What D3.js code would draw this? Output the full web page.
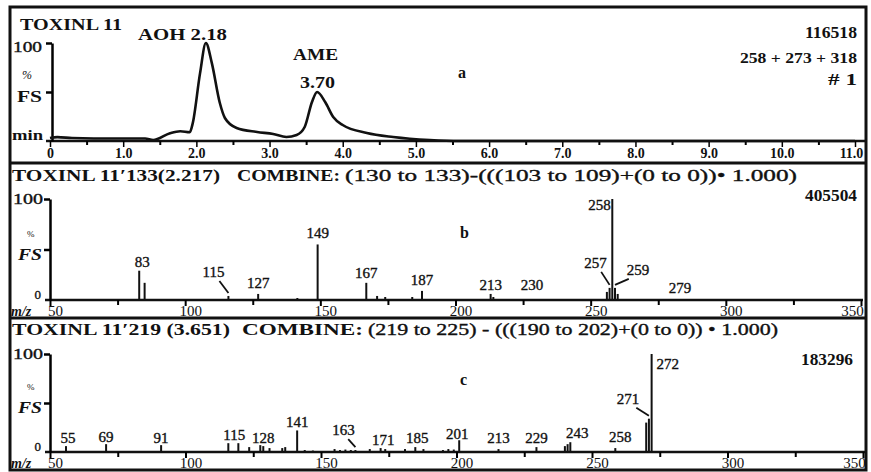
<!DOCTYPE html>
<html>
<head>
<meta charset="utf-8">
<script src="https://cdn.jsdelivr.net/npm/d3@7"></script>
<style>
  body { margin: 0; background: #fff; }
  text { font-family: "Liberation Serif", "DejaVu Serif", serif; fill: #111; }
</style>
</head>
<body>
<svg id="msChart" width="871" height="472" font-family="Liberation Serif, DejaVu Serif, serif"></svg>
<script>
// chromatogram (panel a), % of full scale vs minutes
var aTime = [0, 0.1, 0.3, 0.6, 1.0, 1.3, 1.41, 1.64, 1.78, 1.91, 1.95, 2.05, 2.13, 2.21, 2.32, 2.39, 2.55, 2.83, 3.05, 3.23, 3.37, 3.48, 3.58, 3.65, 3.76, 3.87, 4.0, 4.33, 4.69, 5.19, 5.6, 11.0];
var aSignal = [3, 4, 3, 2.5, 2.5, 2.5, 1, 8, 10, 9, 18, 69, 100, 80, 39, 23.5, 13.3, 9.2, 7.1, 4.1, 6.1, 14.3, 39.8, 50, 39.8, 24.5, 16.3, 8.2, 4.1, 1, 0, 0];
var aTickValues = [0, 1, 2, 3, 4, 5, 6, 7, 8, 9, 10, 11];
var aTickLabels = ["0", "1.0", "2.0", "3.0", "4.0", "5.0", "6.0", "7.0", "8.0", "9.0", "10.0", "11.0"];

// spectrum at scan 133 (panel b)
var bMz = [83, 85, 116, 127, 141.5, 149, 167, 171, 174, 184, 187.6, 213, 214, 229, 256, 257, 258, 259, 260, 279];
var bIntensity = [29, 17, 4, 6, 2, 55, 17, 4, 3, 3, 9, 6, 3, 1, 8, 12, 100, 12, 6, 1];
var bLabelMz = [83, 116, 127, 149, 167, 187.6, 213, 229, 257, 258, 259, 279];
var bLabelText = ["83", "115", "127", "149", "167", "187", "213", "230", "257", "258", "259", "279"];

// spectrum at scan 219 (panel c)
var cMz = [55.9, 70.7, 91, 115.8, 119.5, 123.5, 127.6, 128.7, 131, 135.7, 136.8, 141.2, 144, 147, 155, 157, 159, 161, 162.7, 168, 172, 173.7, 181, 184.8, 187.8, 195, 197, 199, 201, 215.5, 229.5, 240, 241, 242, 258.6, 270, 271, 272];
var cIntensity = [6, 8, 7, 9, 9, 5, 7, 6, 4, 4, 5, 22, 2, 1.5, 3, 2, 2.5, 2, 2, 3, 4, 3, 3, 5, 3, 2, 3, 2.5, 12, 3, 5, 6, 8, 10, 4, 30, 34, 100];
var cLabelMz = [55.9, 70.7, 91, 115.8, 128.7, 141.2, 162.7, 173.7, 184.8, 201, 215.5, 229.5, 242, 258.6, 271, 272];
var cLabelText = ["55", "69", "91", "115", "128", "141", "163", "171", "185", "201", "213", "229", "243", "258", "271", "272"];

var mzTicks = [50, 100, 150, 200, 250, 300, 350];

var svg = d3.select("svg#msChart");

// label nudges (layout only)
var bNudge = {
  "83": { dx: 3 }, "115": { dx: -15, dy: -19, lead: true }, "127": { dy: -6 },
  "149": { dy: -6 }, "167": { dy: -5 }, "187": { dy: -6 }, "230": { dx: -2, dy: -9 },
  "257": { dx: -14, dy: -20, lead: true }, "258": { dx: -1.5, dy: 11, anchor: "end" },
  "259": { dx: 23, dy: -13, lead: true }, "279": { dx: 11, dy: -6 }
};
var cNudge = {
  "55": { dx: 2, dy: -3 }, "69": { dy: -2 }, "91": { dy: -2 }, "115": { dx: 6, dy: -3 },
  "128": { dy: -3 }, "141": { dy: -3 }, "163": { dx: -12, dy: -15, lead: true },
  "171": { dx: -2 }, "185": { dx: 2 }, "201": { dx: -2, dy: -1 }, "213": { dy: -6 },
  "243": { dx: 7 }, "258": { dx: 5, dy: -6 },
  "271": { dx: -21, dy: -15, lead: true }, "272": { dx: 5, dy: 15, anchor: "start" }
};

function addText(g, str, x, y, opts) {
  opts = opts || {};
  var t = g.append("text")
    .attr("x", x)
    .attr("y", y)
    .attr("font-size", opts.size || 15)
    .attr("font-weight", opts.bold ? "bold" : null)
    .attr("font-style", opts.italic ? "italic" : null)
    .attr("text-anchor", opts.anchor || "start")
    .text(str);
  if (opts.len) t.attr("textLength", opts.len).attr("lengthAdjust", "spacingAndGlyphs");
  if (opts.heavy) t.attr("stroke", "#111").attr("stroke-width", 0.35);
  return t;
}

// ---------- panel a ----------
var xa = d3.scaleLinear().domain([0, 11]).range([50, 855]);
var ya = d3.scaleLinear().domain([0, 100]).range([141, 43]);
var ga = svg.append("g");

ga.append("line").attr("x1", 46).attr("x2", 866).attr("y1", 141).attr("y2", 141)
  .attr("stroke", "#111").attr("stroke-width", 2.5);

ga.append("g")
  .attr("transform", "translate(0,141)")
  .call(d3.axisBottom(xa).tickValues(d3.range(0.5, 11, 1)).tickSize(4).tickFormat(""))
  .call(function (s) { s.select(".domain").remove(); })
  .selectAll("line").attr("stroke-width", 2);

ga.append("g")
  .attr("transform", "translate(0,141)")
  .call(d3.axisBottom(xa).tickValues(aTickValues).tickSize(6)
    .tickFormat(function (d, i) { return aTickLabels[i]; }))
  .attr("font-family", null)
  .call(function (s) { s.select(".domain").remove(); })
  .call(function (s) {
    s.selectAll("line").attr("stroke-width", 1.5);
    s.selectAll("text").attr("y", 7).attr("font-size", 14).attr("font-weight", "bold")
      .attr("dx", function (d) { return d === 11 ? -4 : 0; });
  });

ga.append("g")
  .attr("transform", "translate(52,0)")
  .call(d3.axisLeft(ya).tickValues([50, 100]).tickSize(6).tickSizeOuter(0).tickFormat(""))
  .call(function (s) { s.selectAll("path,line").attr("stroke-width", 2.5); });

ga.append("path")
  .datum(aTime.map(function (t, i) { return [t, aSignal[i]]; }))
  .attr("fill", "none")
  .attr("stroke", "#111")
  .attr("stroke-width", 2.6)
  .attr("stroke-linejoin", "round")
  .attr("d", d3.line()
    .x(function (d) { return xa(d[0]); })
    .y(function (d) { return ya(d[1]); })
    .curve(d3.curveMonotoneX));

addText(ga, "TOXINL 11", 20, 30, { size: 17, bold: true, len: 102 });
addText(ga, "AOH 2.18", 138, 40, { size: 16, bold: true, len: 89 });
addText(ga, "AME", 293, 60, { size: 16, bold: true, len: 45 });
addText(ga, "3.70", 300, 88, { size: 16, bold: true, len: 35 });
addText(ga, "a", 458, 78, { size: 16, bold: true });
addText(ga, "116518", 857, 38, { size: 16, bold: true, anchor: "end", len: 52 });
addText(ga, "258 + 273 + 318", 857, 63, { size: 15, bold: true, anchor: "end", len: 117 });
addText(ga, "# 1", 857, 85, { size: 16, bold: true, anchor: "end", len: 29 });
addText(ga, "100", 13, 52, { size: 14, len: 29, heavy: true });
addText(ga, "%", 22, 79, { size: 12, italic: true });
addText(ga, "FS", 17, 102, { size: 16, bold: true, len: 25 });
addText(ga, "min", 12, 140, { size: 15, bold: true, len: 31 });

// ---------- spectrum panels ----------
function drawSpectrum(opt) {
  var g = svg.append("g");
  var x = d3.scaleLinear().domain([50, 350]).range([50, opt.right]);
  var y = d3.scaleLinear().domain([0, 100]).range([opt.base, opt.top]);

  g.append("line").attr("x1", 45).attr("x2", opt.right + 2)
    .attr("y1", opt.base).attr("y2", opt.base)
    .attr("stroke", "#111").attr("stroke-width", 2.5);

  g.append("g")
    .attr("transform", "translate(0," + opt.base + ")")
    .call(d3.axisBottom(x).tickValues(d3.range(75, 350, 50)).tickSize(5).tickFormat(""))
    .call(function (s) { s.select(".domain").remove(); })
    .selectAll("line").attr("stroke-width", 2);

  g.append("g")
    .attr("transform", "translate(0," + opt.base + ")")
    .call(d3.axisBottom(x).tickValues(mzTicks).tickSize(6))
    .attr("font-family", null)
    .call(function (s) { s.select(".domain").remove(); })
    .call(function (s) {
      s.selectAll("line").attr("stroke-width", 2);
      s.selectAll("text").attr("y", 5).attr("font-size", 15)
        .attr("dx", function (d) { return d === 350 ? -9 : 5; });
    });

  g.append("g")
    .attr("transform", "translate(50,0)")
    .call(d3.axisLeft(y).tickValues([50, 100]).tickSize(6).tickSizeOuter(0).tickFormat(""))
    .call(function (s) { s.selectAll("path,line").attr("stroke-width", 2.5); });

  g.append("g")
    .selectAll("line")
    .data(opt.mz)
    .enter()
    .append("line")
    .attr("x1", function (d) { return x(d); })
    .attr("x2", function (d) { return x(d); })
    .attr("y1", y(0))
    .attr("y2", function (d, i) { return y(opt.intensity[i]); })
    .attr("stroke", "#111")
    .attr("stroke-width", 2);

  opt.labelText.forEach(function (txt, i) {
    var m = opt.labelMz[i];
    var v = opt.intensity[opt.mz.indexOf(m)];
    var n = opt.nudge[txt] || {};
    var dx = n.dx || 0, dy = n.dy === undefined ? -4 : n.dy;
    var px = x(m), py = y(v);
    addText(g, txt, px + dx, py + dy, { size: 15, anchor: n.anchor || "middle", heavy: true });
    if (n.lead) {
      g.append("line")
        .attr("x1", px + dx * 0.6).attr("y1", py + dy + 4)
        .attr("x2", px).attr("y2", py - 3)
        .attr("stroke", "#111").attr("stroke-width", 1.8);
    }
  });

  addText(g, opt.header[0], 12, opt.headY, { size: 17, bold: true, len: opt.headLen[0] });
  addText(g, "COMBINE:", opt.headX[1], opt.headY, { size: 17, bold: true, len: opt.headLen[1] });
  addText(g, opt.header[1], opt.headX[2], opt.headY, { size: 16, len: opt.headLen[2], heavy: true });

  addText(g, "100", 43, y(100) + 5, { size: 14, anchor: "end", len: 30, heavy: true });
  addText(g, "%", 27, opt.pctY, { size: 9 });
  addText(g, "FS", 42, opt.fsY, { size: 16, bold: true, italic: true, anchor: "end", len: 24 });
  addText(g, "0", 41, opt.base - 1, { size: 13, anchor: "end", heavy: true });
  addText(g, "m/z", 11, opt.base + 16, { size: 14, bold: true, italic: true });
  addText(g, opt.letter, 460, opt.letterY, { size: 16, bold: true });
  addText(g, opt.total, opt.totalX, opt.totalY, { size: 16, bold: true, anchor: "end", len: 52 });
}

drawSpectrum({
  right: 861, base: 300, top: 199,
  mz: bMz, intensity: bIntensity, labelMz: bLabelMz, labelText: bLabelText, nudge: bNudge,
  header: ["TOXINL 11\u2032133(2.217)", "(130 to 133)-(((103 to 109)+(0 to 0))\u2022  1.000)"],
  headX: [12, 237, 345], headLen: [208, 103, 452], headY: 181,
  pctY: 237, fsY: 260, letter: "b", letterY: 238,
  total: "405504", totalX: 857, totalY: 201
});

drawSpectrum({
  right: 863, base: 452, top: 354,
  mz: cMz, intensity: cIntensity, labelMz: cLabelMz, labelText: cLabelText, nudge: cNudge,
  header: ["TOXINL 11\u2032219 (3.651)", "(219 to 225) - (((190 to 202)+(0 to 0)) \u2022 1.000)"],
  headX: [12, 242, 368], headLen: [218, 121, 410], headY: 335,
  pctY: 390, fsY: 413, letter: "c", letterY: 385,
  total: "183296", totalX: 853, totalY: 365
});

// frame and separators
svg.append("rect")
  .attr("x", 10).attr("y", 7).attr("width", 856).attr("height", 463)
  .attr("fill", "none").attr("stroke", "#111").attr("stroke-width", 3);
svg.selectAll("line.sep")
  .data([163, 318])
  .enter()
  .append("line")
  .attr("class", "sep")
  .attr("x1", 10).attr("x2", 866)
  .attr("y1", function (d) { return d; })
  .attr("y2", function (d) { return d; })
  .attr("stroke", "#111").attr("stroke-width", 3);
</script>
</body>
</html>
